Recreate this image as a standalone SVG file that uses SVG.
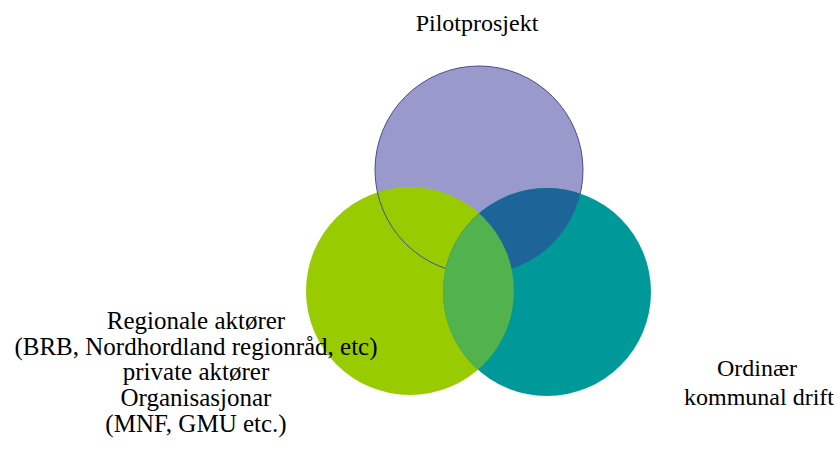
<svg xmlns="http://www.w3.org/2000/svg" width="840" height="455" viewBox="0 0 840 455">
<style>
.lbl{fill:#000;text-anchor:middle}
</style>
<defs>
<clipPath id="cpP"><circle cx="479" cy="170" r="104"/></clipPath>
<clipPath id="cpG"><circle cx="410" cy="291" r="104"/></clipPath>
</defs>
<rect width="840" height="455" fill="#fff"/>
<g id="circle-pilot"><circle cx="479" cy="170" r="104" fill="#9999cc"/></g>
<g id="circle-regional"><circle cx="410" cy="291" r="104" fill="#99cc00"/></g>
<circle cx="479" cy="170" r="104" fill="none" stroke="#4b4b8f" stroke-width="1"/>
<g id="circle-ordinaer"><circle cx="547" cy="292" r="104" fill="#009999"/></g>
<g id="overlaps">
<circle cx="547" cy="292" r="104" fill="#1d6598" clip-path="url(#cpP)"/>
<circle cx="547" cy="292" r="104" fill="#52b24e" clip-path="url(#cpG)"/>
</g>
<g id="label-pilot"><text class="lbl" x="477" y="31" font-family="Times New Roman" font-size="24">Pilotprosjekt</text></g>
<g id="label-regional">
<text class="lbl" x="196" y="329" font-family="Times New Roman" font-size="25">Regionale akt&#248;rer</text>
<text class="lbl" x="196" y="355" font-family="Times New Roman" font-size="25">(BRB, Nordhordland regionr&#229;d, etc)</text>
<text class="lbl" x="196" y="380" font-family="Times New Roman" font-size="25">private akt&#248;rer</text>
<text class="lbl" x="196" y="406" font-family="Times New Roman" font-size="25">Organisasjonar</text>
<text class="lbl" x="196" y="432" font-family="Times New Roman" font-size="25">(MNF, GMU etc.)</text>
</g>
<g id="label-ordinaer">
<text class="lbl" x="757" y="376" font-family="Times New Roman" font-size="24">Ordin&#230;r</text>
<text class="lbl" x="759" y="405" font-family="Times New Roman" font-size="24">kommunal drift</text>
</g>
</svg>
